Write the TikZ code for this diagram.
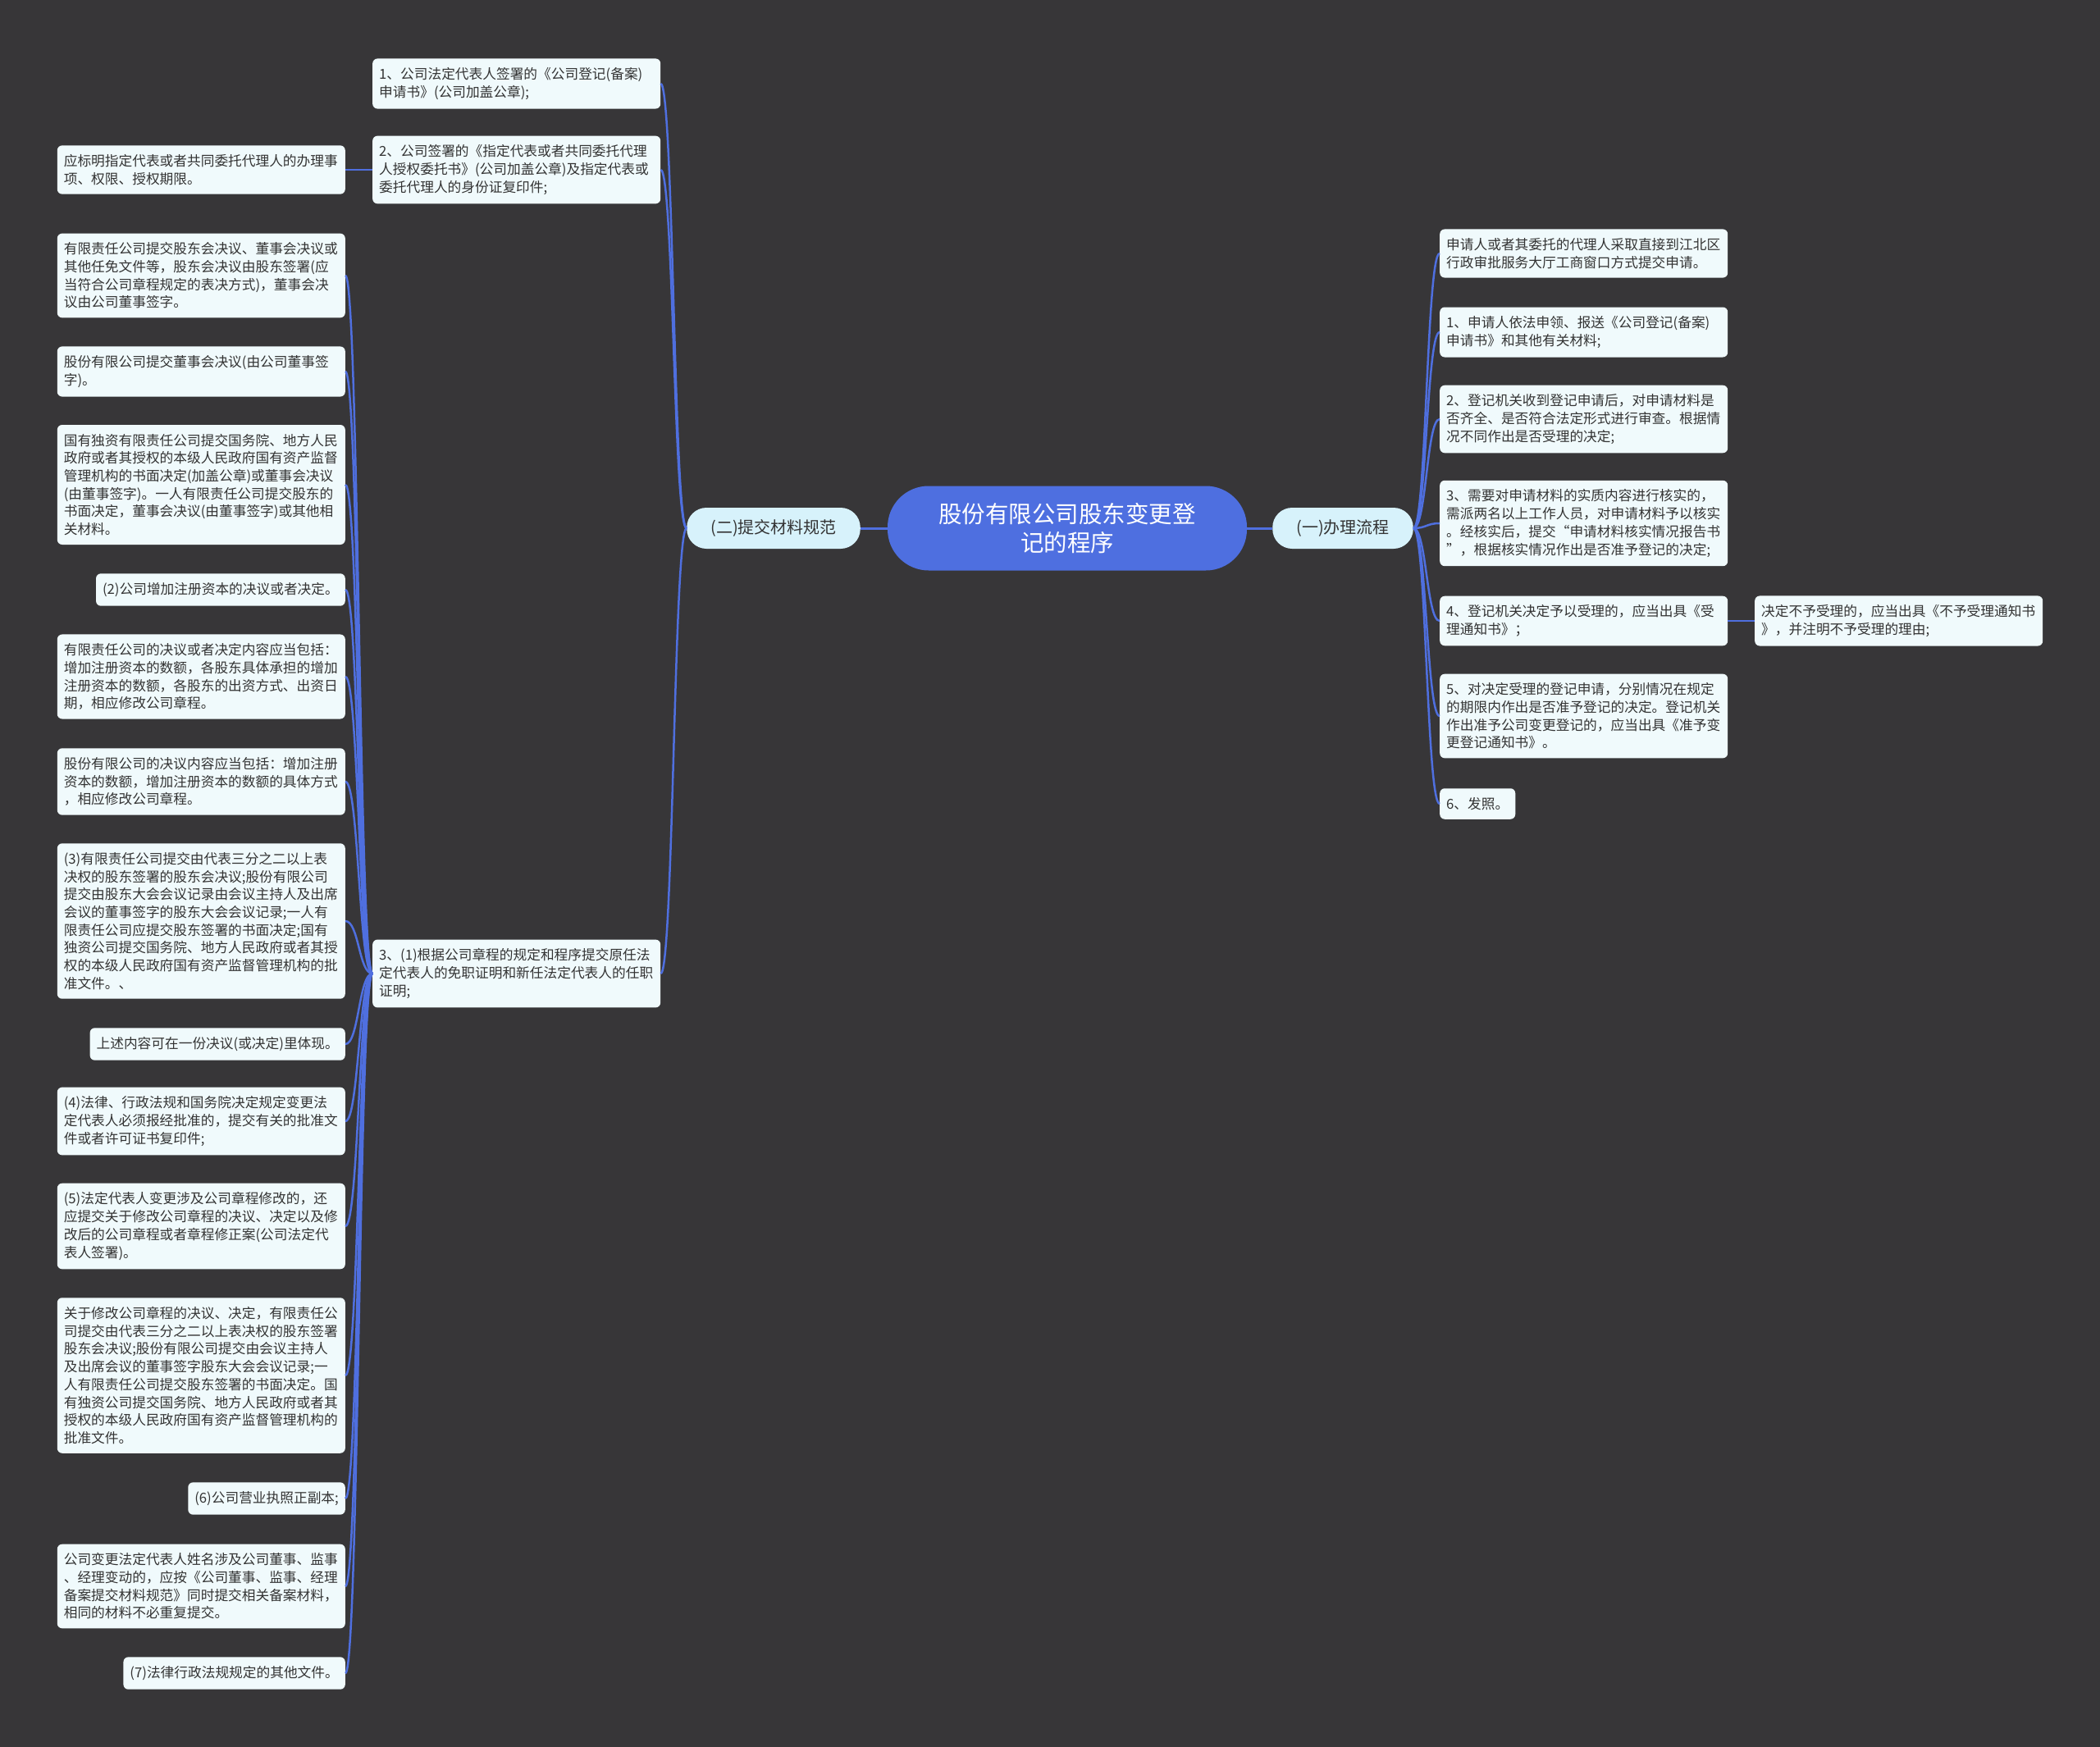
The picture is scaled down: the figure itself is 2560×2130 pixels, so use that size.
\documentclass[tikz,border=0pt]{standalone}
\usepackage{fontspec}
\setmainfont{Noto Sans CJK SC}
\usetikzlibrary{calc}
\definecolor{bgdark}{HTML}{373638}
\definecolor{linkblue}{HTML}{4F6FDF}
\definecolor{topicblue}{HTML}{4E6FE0}
\definecolor{subfill}{HTML}{D7F2FB}
\definecolor{leaffill}{HTML}{F0FAFC}
\definecolor{inkdark}{HTML}{333333}
\tikzset{
  topic/.style={fill=topicblue,text=white,rounded corners=50pt,align=center,
    minimum width=438pt,minimum height=103pt,font=\fontsize{28.5}{35}\selectfont},
  subtopic/.style={fill=subfill,text=inkdark,rounded corners=24pt,inner xsep=29pt,
    minimum height=50pt,font=\fontsize{20}{24}\selectfont},
  leaf/.style={fill=leaffill,text=inkdark,rounded corners=6pt,align=left,
    inner xsep=8pt,inner ysep=11pt,font=\fontsize{16.7}{21.7}\selectfont},
  wide/.style={leaf,text width=335pt},
  link/.style={draw=linkblue,line width=2.5pt},
  spline/.style={to path={.. controls ($(\tikztostart)!0.5!(\tikztotarget|-\tikztostart)$)
    and ($(\tikztotarget)!0.5!(\tikztostart|-\tikztotarget)$) .. (\tikztotarget)}}
}
\begin{document}
\begin{tikzpicture}[x=1pt,y=-1pt]
  \fill[bgdark] (0,0) rectangle (2560,2130);
  \useasboundingbox (0,0) rectangle (2560,2130);

  \node[topic] (prog) at (1301,644) {股份有限公司股东变更登\\记的程序};
  \node[subtopic] (mat) at (943,644) {(二)提交材料规范};
  \node[subtopic] (proc) at (1637,644) {(一)办理流程};

  % (二) side
  \node[wide,anchor=west] (m1) at (454,102) {1、公司法定代表人签署的《公司登记(备案)\\申请书》(公司加盖公章);};
  \node[wide,anchor=west] (m2) at (454,207) {2、公司签署的《指定代表或者共同委托代理\\人授权委托书》(公司加盖公章)及指定代表或\\委托代理人的身份证复印件;};
  \node[wide,anchor=east] (m2a) at (421,207) {应标明指定代表或者共同委托代理人的办理事\\项、权限、授权期限。};
  \node[wide,anchor=west] (m3) at (454,1187) {3、(1)根据公司章程的规定和程序提交原任法\\定代表人的免职证明和新任法定代表人的任职\\证明;};

  \node[wide,anchor=east] (c1) at (421,336) {有限责任公司提交股东会决议、董事会决议或\\其他任免文件等，股东会决议由股东签署(应\\当符合公司章程规定的表决方式)，董事会决\\议由公司董事签字。};
  \node[wide,anchor=east] (c2) at (421,453) {股份有限公司提交董事会决议(由公司董事签\\字)。};
  \node[wide,anchor=east] (c3) at (421,591) {国有独资有限责任公司提交国务院、地方人民\\政府或者其授权的本级人民政府国有资产监督\\管理机构的书面决定(加盖公章)或董事会决议\\(由董事签字)。一人有限责任公司提交股东的\\书面决定，董事会决议(由董事签字)或其他相\\关材料。};
  \node[leaf,anchor=east] (c4) at (421,719) {(2)公司增加注册资本的决议或者决定。};
  \node[wide,anchor=east] (c5) at (421,825) {有限责任公司的决议或者决定内容应当包括：\\增加注册资本的数额，各股东具体承担的增加\\注册资本的数额，各股东的出资方式、出资日\\期，相应修改公司章程。};
  \node[wide,anchor=east] (c6) at (421,953) {股份有限公司的决议内容应当包括：增加注册\\资本的数额，增加注册资本的数额的具体方式\\，相应修改公司章程。};
  \node[wide,anchor=east] (c7) at (421,1123) {(3)有限责任公司提交由代表三分之二以上表\\决权的股东签署的股东会决议;股份有限公司\\提交由股东大会会议记录由会议主持人及出席\\会议的董事签字的股东大会会议记录;一人有\\限责任公司应提交股东签署的书面决定;国有\\独资公司提交国务院、地方人民政府或者其授\\权的本级人民政府国有资产监督管理机构的批\\准文件。、};
  \node[leaf,anchor=east] (c8) at (421,1273) {上述内容可在一份决议(或决定)里体现。};
  \node[wide,anchor=east] (c9) at (421,1367) {(4)法律、行政法规和国务院决定规定变更法\\定代表人必须报经批准的，提交有关的批准文\\件或者许可证书复印件;};
  \node[wide,anchor=east] (c10) at (421,1495) {(5)法定代表人变更涉及公司章程修改的，还\\应提交关于修改公司章程的决议、决定以及修\\改后的公司章程或者章程修正案(公司法定代\\表人签署)。};
  \node[wide,anchor=east] (c11) at (421,1677) {关于修改公司章程的决议、决定，有限责任公\\司提交由代表三分之二以上表决权的股东签署\\股东会决议;股份有限公司提交由会议主持人\\及出席会议的董事签字股东大会会议记录;一\\人有限责任公司提交股东签署的书面决定。国\\有独资公司提交国务院、地方人民政府或者其\\授权的本级人民政府国有资产监督管理机构的\\批准文件。};
  \node[leaf,anchor=east] (c12) at (421,1827) {(6)公司营业执照正副本;};
  \node[wide,anchor=east] (c13) at (421,1934) {公司变更法定代表人姓名涉及公司董事、监事\\、经理变动的，应按《公司董事、监事、经理\\备案提交材料规范》同时提交相关备案材料，\\相同的材料不必重复提交。};
  \node[leaf,anchor=east] (c14) at (421,2040) {(7)法律行政法规规定的其他文件。};

  % (一) side
  \node[wide,anchor=west] (p0) at (1755,309) {申请人或者其委托的代理人采取直接到江北区\\行政审批服务大厅工商窗口方式提交申请。};
  \node[wide,anchor=west] (p1) at (1755,405) {1、申请人依法申领、报送《公司登记(备案)\\申请书》和其他有关材料;};
  \node[wide,anchor=west] (p2) at (1755,511) {2、登记机关收到登记申请后，对申请材料是\\否齐全、是否符合法定形式进行审查。根据情\\况不同作出是否受理的决定;};
  \node[wide,anchor=west] (p3) at (1755,638) {3、需要对申请材料的实质内容进行核实的，\\需派两名以上工作人员，对申请材料予以核实\\。经核实后，提交“申请材料核实情况报告书\\”，根据核实情况作出是否准予登记的决定;};
  \node[wide,anchor=west] (p4) at (1755,757) {4、登记机关决定予以受理的，应当出具《受\\理通知书》；};
  \node[wide,anchor=west] (p4a) at (2139,757) {决定不予受理的，应当出具《不予受理通知书\\》，并注明不予受理的理由;};
  \node[wide,anchor=west] (p5) at (1755,873) {5、对决定受理的登记申请，分别情况在规定\\的期限内作出是否准予登记的决定。登记机关\\作出准予公司变更登记的，应当出具《准予变\\更登记通知书》。};
  \node[leaf,anchor=west] (p6) at (1755,980) {6、发照。};

  % connectors
  \draw[link,line width=3pt] (prog) -- (mat);
  \draw[link,line width=3pt] (prog) -- (proc);
  \foreach \c in {m1,m2,m3}
    \draw[link] (mat.west) to[spline] (\c.east);
  \draw[link] (m2.west) -- (m2a.east);
  \foreach \c in {c1,c2,c3,c4,c5,c6,c7,c8,c9,c10,c11,c12,c13,c14}
    \draw[link] (m3.west) to[spline] (\c.east);
  \foreach \c in {p0,p1,p2,p3,p4,p5,p6}
    \draw[link] (proc.east) to[spline] (\c.west);
  \draw[link] (p4.east) -- (p4a.west);
\end{tikzpicture}
\end{document}
